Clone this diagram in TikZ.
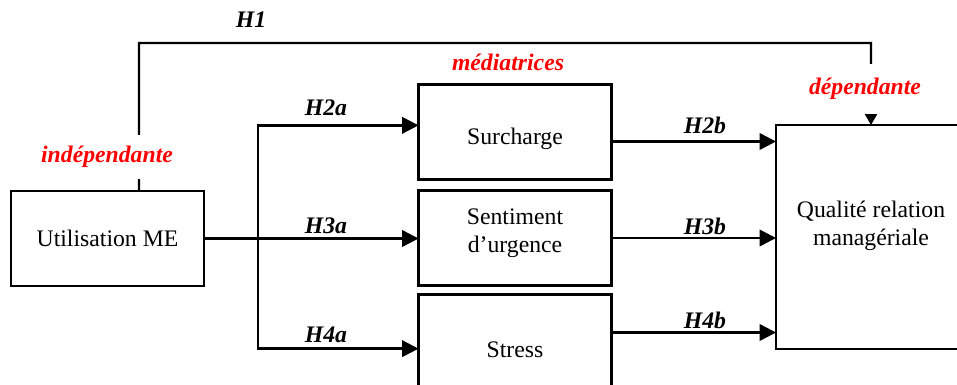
\documentclass[tikz,border=0pt]{standalone}
\usepackage{fontspec}
\setmainfont{Liberation Serif}
\usetikzlibrary{arrows.meta, calc}
\newcommand{\boxWidth}{3.86cm}
\newcommand{\boxHeight}{1.9cm}
\newcommand{\lineWidth}{1.35pt}
\newcommand{\fontSize}{13.5}
\newcommand{\arrow}{{Triangle[length=3.3mm, width=3.3mm]}}
\newcommand{\smallArrow}{{Triangle[length=2.2mm, width=2.4mm]}}
\definecolor{lineColor}{RGB}{0, 0, 0}
\definecolor{labelRed}{RGB}{255, 0, 0}
\tikzstyle{panel}=[draw=lineColor, line width=\lineWidth, inner sep=0, outer sep=0, align=center, font=\fontsize{\fontSize}{16}\selectfont]
\tikzstyle{box}=[panel, minimum width=\boxWidth, minimum height=\boxHeight]
\tikzstyle{line}=[draw=lineColor, line width=\lineWidth]
\tikzstyle{arrow}=[line, -\arrow]
\tikzstyle{hypo}=[draw=none, inner sep=0, font=\bfseries\itshape\fontsize{\fontSize}{\fontSize}\selectfont]
\tikzstyle{varLabel}=[hypo, text=labelRed, fill=white]

\begin{document}
\begin{tikzpicture}[x=0.02cm, y=-0.02cm]

% Frame
\useasboundingbox (0,0) rectangle (957,385);

% Boxes
\node[box] (util) at (107.5,238.5) {Utilisation ME};
\node[box, text height=0.62cm] (surch) at (515,132) {Surcharge};
\node[box, text depth=0.28cm] (sent) at (515,238) {Sentiment\\d'urgence};
\node[box, text height=0.62cm] (stress) at (515,342) {Stress};
\node[panel, minimum width=3.8cm, minimum height=4.48cm] (qual) at (871,237) {Qualité relation\\managériale\\~};

% Useful coordinates
\coordinate (fork) at (258,238.5);
\coordinate (h1Top) at (139,43);

% H1
\draw[line, -\smallArrow] ($(util.north)+(31.5,0)$) -- (h1Top) -| (qual.north);

% Independent -> mediators
\draw[arrow] (util.east) -- (util.east -| sent.west);
\draw[arrow] (fork) |- ($(surch.north west)!0.43!(surch.south west)$);
\draw[arrow] (fork) |- ($(stress.north west)!0.57!(stress.south west)$);

% Mediators -> dependent
\coordinate (outA) at ($(surch.north east)!0.6!(surch.south east)$);
\coordinate (outB) at (sent.east);
\coordinate (outC) at ($(stress.north east)!0.4!(stress.south east)$);
\foreach \p in {outA,outB,outC} {
  \draw[arrow] (\p) -- (\p -| qual.west);
  }

% Hypothesis labels
\node[hypo] (lH1) at (251,20) {H1};
\node[hypo] (lH2a) at (326,108) {H2a};
\node[hypo] (lH3a) at (326,226) {H3a};
\node[hypo] (lH4a) at (326,335) {H4a};
\node[hypo] (lH2b) at (705,125) {H2b};
\node[hypo] (lH3b) at (705,226) {H3b};
\node[hypo] (lH4b) at (705,320) {H4b};

% Variable labels
\node[varLabel, minimum height=0.9cm] (lInd) at (107,157) {indépendante};
\node[varLabel, fill=none] (lMed) at (508,62) {médiatrices};
\node[varLabel, minimum height=1cm] (lDep) at (865,89) {dépendante};

\end{tikzpicture}
\end{document}
